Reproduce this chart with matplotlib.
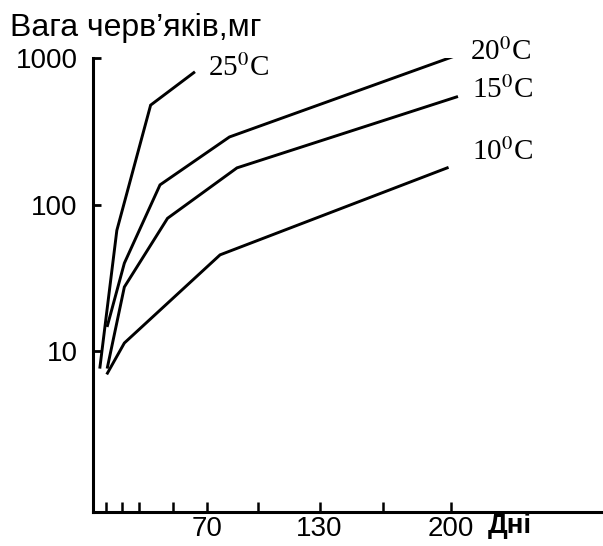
import numpy as np
import matplotlib.pyplot as plt

plt.rcParams['font.family'] = ['Liberation Sans', 'DejaVu Sans']
plt.rcParams['mathtext.fontset'] = 'stix'

# days / weight (mg)
days_25 = [13, 22, 40, 63]
w_25 = [7.8, 67, 480, 800]
days_20 = [17, 26, 45, 82, 203]
w_20 = [15, 40, 137, 291, 1050]
days_15 = [17, 26, 49, 86, 203]
w_15 = [7.8, 27.5, 81, 179, 546]
days_10 = [17, 26, 77, 198]
w_10 = [7.1, 11.4, 45.6, 179]

curve_labels = ['25', '20', '15', '10']
xticks = [16, 25, 34, 52, 70, 97, 130, 164, 200]
xtick_labels = ['', '', '', '', '70', '', '130', '', '200']
yticks = [10, 100, 1000]
ytick_labels = ['10', '100', '1000']

fig = plt.figure(figsize=(6.03, 5.46), dpi=100)
ax = fig.add_axes([93/603, 34/546, 510/603, 454/546])

for d, w in [(days_25, w_25), (days_20, w_20), (days_15, w_15), (days_10, w_10)]:
    ax.plot(d, w, color='black', lw=2.1, solid_joinstyle='miter')

ax.set_yscale('log')
ax.set_xlim(9.3, 281)
ax.set_ylim(0.80, 1007)

ax.spines['top'].set_visible(False)
ax.spines['right'].set_visible(False)
ax.spines['left'].set_linewidth(2.2)
ax.spines['bottom'].set_linewidth(2.2)

ax.set_yticks(yticks)
ax.set_yticklabels(ytick_labels)
ax.yaxis.set_minor_locator(plt.NullLocator())
ax.set_xticks(xticks)
ax.set_xticklabels(xtick_labels)
ax.tick_params(axis='y', direction='in', length=6, width=2, labelsize=20, pad=11)
ax.tick_params(axis='x', direction='in', length=7, width=1.8, labelsize=20, pad=3)

# curve labels
label_pos = [(70.6, 861), (210, 1107), (211, 610), (211, 228)]
for lab, (x, y) in zip(curve_labels, label_pos):
    ax.text(x, y, lab + r'$^{\rm 0}$C', family='Liberation Serif', fontsize=21,
            va='center', ha='left')

fig.text(10/603, 1 - 28/546, 'Вага черв’яків,мг', fontsize=23, va='center', ha='left')
fig.text(488/603, 1 - 526/546, 'Дні', fontsize=20, va='center', ha='left', fontweight='bold')

fig.savefig('out.png', dpi=100)
